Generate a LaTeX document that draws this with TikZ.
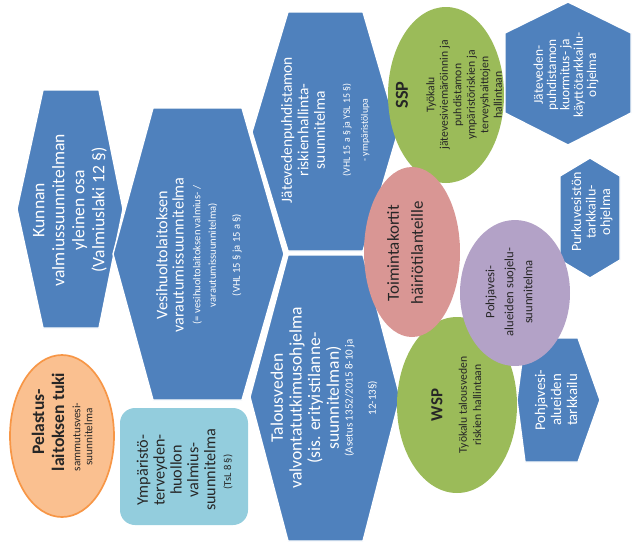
\documentclass[tikz,border=0pt]{standalone}
\usepackage{fontspec}
\setmainfont{Carlito}
\definecolor{hexblue}{HTML}{4F81BD}
\definecolor{toolgreen}{HTML}{9BBB59}
\definecolor{cardred}{HTML}{D99694}
\definecolor{gwpurple}{HTML}{B3A2C7}
\definecolor{envaqua}{HTML}{93CDDD}
\definecolor{rescfill}{HTML}{FAC090}
\definecolor{rescline}{HTML}{F79646}
\definecolor{ink}{HTML}{262626}
\newcommand{\fsz}[2]{\fontsize{#1}{#2}\selectfont}

\begin{document}
\begin{tikzpicture}[x=0.025cm,y=-0.025cm,
  hx/.style={fill=hexblue,draw=white,line width=1pt,line join=round},
  wt/.style={text=white,align=center,rotate=90,inner sep=0pt},
  dk/.style={wt,text=ink}]
\useasboundingbox (0,0) rectangle (633,541);

% hexagon column, left to right
\filldraw[hx] (17,209) -- (43,90) -- (99,90) -- (123,209) -- (99,328) -- (43,328) -- cycle;
\filldraw[hx] (113,254) -- (153,108) -- (242,108) -- (284,254) -- (242,400) -- (153,400) -- cycle;
\filldraw[hx] (252,132) -- (288,12) -- (363,12) -- (398,132) -- (363,251) -- (288,251) -- cycle;
\filldraw[hx] (250,397) -- (288,255) -- (363,255) -- (400,397) -- (363,541) -- (288,541) -- cycle;

% monitoring programmes on the right
\filldraw[hx] (568,2) -- (631,33) -- (631,113) -- (568,145) -- (505,113) -- (505,33) -- cycle;
\filldraw[hx] (590,158) -- (620,176) -- (620,260) -- (590,278) -- (560,260) -- (560,176) -- cycle;
\filldraw[hx] (517,400) -- (525,338) -- (578,338) -- (600,400) -- (578,462) -- (525,462) -- cycle;

\fill[envaqua,rounded corners=0.375cm] (120,408) rectangle (248,525);
\filldraw[fill=rescfill,draw=rescline,line width=1.2pt] (62,436) ellipse [x radius=52,y radius=81];

\fill[toolgreen] (446,95) ellipse [x radius=58,y radius=88];
\fill[toolgreen] (457,405) ellipse [x radius=60,y radius=88];
\fill[cardred] (412,252) ellipse [x radius=48,y radius=85];
\fill[gwpurple] (515,293) ellipse [x radius=55,y radius=73];

\node[wt,font=\fsz{12.5}{14.2}] (kunnan) at (70,210) {Kunnan\\valmiussuunnitelman\\yleinen osa\\(Valmiuslaki 12 §)};

\node[wt,font=\fsz{11.5}{11.5}] (vhl) at (170,255) {Vesihuoltolaitoksen\\varautumissuunnitelma};
\node[wt,font=\fsz{7.5}{11}] (vhlsub) at (205,255) {(= vesihuoltolaitoksen valmius- /\\varautumissuunnitelma)};
\node[wt,font=\fsz{7.5}{9}] (vhlref) at (237,255) {(VHL 15 § ja 15 a §)};

\node[wt,font=\fsz{11}{11.7}] (jvp) at (303,130) {Jätevedenpuhdistamon\\riskienhallinta-\\suunnitelma};
\node[wt,font=\fsz{7}{12.8}] (jvpref) at (356,130) {(VHL 15 a § ja YSL 15 §)\\- ympäristölupa};

\node[wt,font=\fsz{12.5}{13.3}] (talous) at (306,398) {Talousveden\\valvontatutkimusohjelma\\(sis. erityistilanne-\\suunnitelman)};
\node[wt,font=\fsz{7.8}{16.4}] (talousref) at (361,398) {(Asetus 1352/2015 8-10 ja\\12-13§)};

\node[wt,font=\fsz{9.5}{9.5}] (kuorm) at (566,75) {Jäteveden-\\puhdistamon\\kuormitus- ja\\käyttötarkkailu-\\ohjelma};
\node[wt,font=\fsz{10}{10.3}] (purku) at (592,212) {Purkuvesistön\\tarkkailu-\\ohjelma};
\node[wt,font=\fsz{10.5}{11.4}] (pvtark) at (556,400) {Pohjavesi-\\alueiden\\tarkkailu};

\node[dk,font=\fsz{13}{13}\bfseries] (ssp) at (402,95) {SSP};
\node[dk,font=\fsz{8.3}{9.6}] (ssptxt) at (464,95) {Työkalu\\jätevesiviemäröinnin ja\\puhdistamon\\ympäristöriskien ja\\terveyshaittojen\\hallintaan};
\node[dk,font=\fsz{12}{13}\bfseries] (wsp) at (437,405) {WSP};
\node[dk,font=\fsz{8.3}{10}] (wsptxt) at (470,405) {Työkalu talousveden\\riskien hallintaan};

\node[dk,font=\fsz{12}{17}] (toim) at (405,253) {Toimintakortit\\häiriötilanteille};
\node[dk,font=\fsz{9}{13.5}] (pvsuoj) at (509,292) {Pohjavesi-\\alueiden suojelu-\\suunnitelma};

\node[dk,font=\fsz{12.5}{14.2}\bfseries] (pelastus) at (48,422) {Pelastus-\\laitoksen tuki};
\node[dk,font=\fsz{8}{8.5}] (sammutus) at (82.5,437) {sammutusvesi-\\suunnitelma};

\node[dk,font=\fsz{11.5}{12}] (ymp) at (176,470) {Ympäristö-\\terveyden-\\huollon\\valmius-\\suunnitelma};
\node[dk,font=\fsz{7.5}{9}] (tsl) at (228,472) {(TsL 8 §)};
\end{tikzpicture}
\end{document}
